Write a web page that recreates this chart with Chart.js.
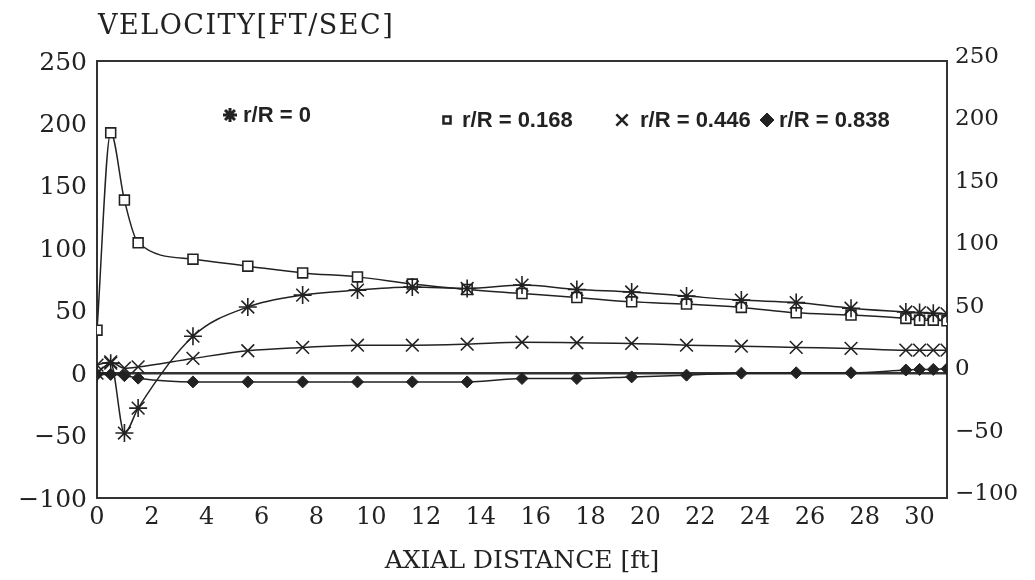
<!DOCTYPE html>
<html>
<head>
<meta charset="utf-8">
<title>Velocity vs axial distance</title>
<script src="https://cdn.jsdelivr.net/npm/chart.js@4.4.0/dist/chart.umd.min.js"></script>
<style>
  html, body { margin: 0; padding: 0; background: #fff; }
  #wrap { width: 1035px; height: 580px; }
</style>
</head>
<body>
<div id="wrap"><canvas id="velChart" width="1035" height="580"></canvas></div>
<script>
// Axial stations [ft]
var axialDist = [0, 0.5, 1, 1.5, 3.5, 5.5, 7.5, 9.5, 11.5, 13.5, 15.5, 17.5, 19.5, 21.5, 23.5, 25.5, 27.5, 29.5, 30, 30.5, 31];

// Velocity [ft/sec] per radial position
var velR0    = [0, 8, -48, -28, 29.6, 53, 62.5, 66.5, 69, 67.8, 70.5, 67, 65, 61.7, 58.5, 56.5, 52, 49, 48.5, 48, 47.5];
var velR0168 = [34.4, 192.5, 138.6, 104.4, 91.3, 85.7, 80.3, 77.1, 71.3, 67, 63.8, 60.6, 57.1, 55.3, 52.6, 48.3, 46.5, 43.8, 42.4, 42.4, 41.9];
var velR0446 = [6.4, 9, 4, 5, 11.8, 17.9, 20.6, 22.4, 22.4, 23.2, 24.7, 24.3, 23.8, 22.4, 21.6, 20.6, 19.8, 18.4, 18.4, 18.4, 18.4];
var velR0838 = [-1, -1, -2, -4, -7, -7, -7, -7, -7, -7, -4.3, -4.3, -3, -1.6, 0, 0.3, 0.3, 2.5, 3, 3, 3.5];

var seriesLabels = ["r/R = 0", "r/R = 0.168", "r/R = 0.446", "r/R = 0.838"];
var xTicks = [0, 2, 4, 6, 8, 10, 12, 14, 16, 18, 20, 22, 24, 26, 28, 30];
var yTitle = "VELOCITY[FT/SEC]";
var xTitle = "AXIAL DISTANCE [ft]";

var ink = "#222";
var serif = '"DejaVu Serif", "Liberation Serif", serif';

function toPoints(vals) {
  return vals.map(function (v, i) { return { x: axialDist[i], y: v }; });
}

// typographic minus like the printed figure
function minusLabel(value) {
  return String(value).replace("-", "\u2212");
}

// Frame, title and in-plot legend
var decorPlugin = {
  id: "decor",
  beforeDatasetsDraw: function (chart) {
    var a = chart.chartArea;
    var ctx = chart.ctx;
    ctx.save();
    ctx.strokeStyle = "#333";
    ctx.lineWidth = 2;
    ctx.strokeRect(a.left, a.top, a.right - a.left, a.bottom - a.top);
    ctx.restore();
  },
  afterDraw: function (chart) {
    var ctx = chart.ctx;
    ctx.save();
    ctx.fillStyle = ink;
    ctx.font = "27px " + serif;
    ctx.letterSpacing = "1.5px";
    ctx.textBaseline = "middle";
    ctx.textAlign = "left";
    ctx.fillText(yTitle, 98, 27);
    ctx.letterSpacing = "0px";

    var items = [
      { style: "star", r: 7, lw: 3, fill: ink, mx: 230, tx: 243, y: 115 },
      { style: "rect", r: 5, lw: 2.5, fill: "#fff", mx: 447, tx: 462, y: 120 },
      { style: "crossRot", r: 8, lw: 2.5, fill: ink, mx: 622, tx: 640, y: 120 },
      { style: "rectRot", r: 7, lw: 1, fill: ink, mx: 767, tx: 779, y: 120 }
    ];
    ctx.font = 'bold 22px "Liberation Sans", Arial, sans-serif';
    items.forEach(function (it, i) {
      ctx.fillStyle = it.fill;
      ctx.strokeStyle = ink;
      ctx.lineWidth = it.lw;
      Chart.helpers.drawPoint(ctx, { pointStyle: it.style, radius: it.r, borderWidth: it.lw, rotation: 0 }, it.mx, it.y);
      ctx.fillStyle = ink;
      ctx.fillText(seriesLabels[i], it.tx, it.y + 1);
    });
    ctx.restore();
  }
};

var ctx = document.getElementById("velChart").getContext("2d");

new Chart(ctx, {
  type: "line",
  data: {
    datasets: [
      {
        label: seriesLabels[0],
        data: toPoints(velR0),
        borderColor: ink,
        borderWidth: 1.5,
        pointStyle: "star",
        pointRadius: 9,
        pointBorderWidth: 1.6,
        pointBorderColor: ink,
        pointBackgroundColor: ink,
        cubicInterpolationMode: "monotone"
      },
      {
        label: seriesLabels[1],
        data: toPoints(velR0168),
        borderColor: ink,
        borderWidth: 1.5,
        pointStyle: "rect",
        pointRadius: 7,
        pointBorderWidth: 1.6,
        pointBorderColor: ink,
        pointBackgroundColor: "#fff",
        cubicInterpolationMode: "monotone"
      },
      {
        label: seriesLabels[2],
        data: toPoints(velR0446),
        borderColor: ink,
        borderWidth: 1.5,
        pointStyle: "crossRot",
        pointRadius: 9,
        pointBorderWidth: 1.6,
        pointBorderColor: ink,
        pointBackgroundColor: ink,
        cubicInterpolationMode: "monotone"
      },
      {
        label: seriesLabels[3],
        data: toPoints(velR0838),
        borderColor: ink,
        borderWidth: 1.5,
        pointStyle: "rectRot",
        pointRadius: 6,
        pointBorderWidth: 1,
        pointBorderColor: ink,
        pointBackgroundColor: ink,
        cubicInterpolationMode: "monotone"
      }
    ]
  },
  options: {
    responsive: false,
    animation: false,
    layout: { padding: { top: 61, left: 0, right: 0, bottom: 0 } },
    plugins: {
      legend: { display: false },
      tooltip: { enabled: false },
      title: { display: false }
    },
    scales: {
      x: {
        type: "linear",
        min: 0,
        max: 31,
        afterFit: function (scale) { scale.height = 82; },
        afterBuildTicks: function (scale) {
          scale.ticks = xTicks.map(function (v) { return { value: v }; });
        },
        border: { display: false },
        grid: { display: false, drawTicks: false },
        ticks: {
          color: ink,
          padding: 5,
          maxRotation: 0,
          autoSkip: false,
          font: { family: serif, size: 24 }
        },
        title: {
          display: true,
          text: xTitle,
          color: ink,
          font: { family: serif, size: 25 }
        }
      },
      y: {
        type: "linear",
        position: "left",
        min: -100,
        max: 250,
        afterFit: function (scale) { scale.width = 97; },
        border: { display: false },
        grid: {
          drawTicks: false,
          color: function (c) { return c.tick && c.tick.value === 0 ? "#333" : "rgba(0,0,0,0)"; },
          lineWidth: function (c) { return c.tick && c.tick.value === 0 ? 2.5 : 0; }
        },
        ticks: {
          stepSize: 50,
          color: ink,
          padding: 10,
          labelOffset: 2,
          font: { family: serif, size: 25 },
          callback: minusLabel
        }
      },
      y2: {
        type: "linear",
        position: "right",
        min: -100,
        max: 250,
        afterFit: function (scale) { scale.width = 88; },
        border: { display: false },
        grid: { display: false, drawTicks: false },
        ticks: {
          stepSize: 50,
          color: ink,
          padding: 8,
          labelOffset: -4,
          font: { family: serif, size: 23 },
          callback: minusLabel
        }
      }
    }
  },
  plugins: [decorPlugin]
});
</script>
</body>
</html>
